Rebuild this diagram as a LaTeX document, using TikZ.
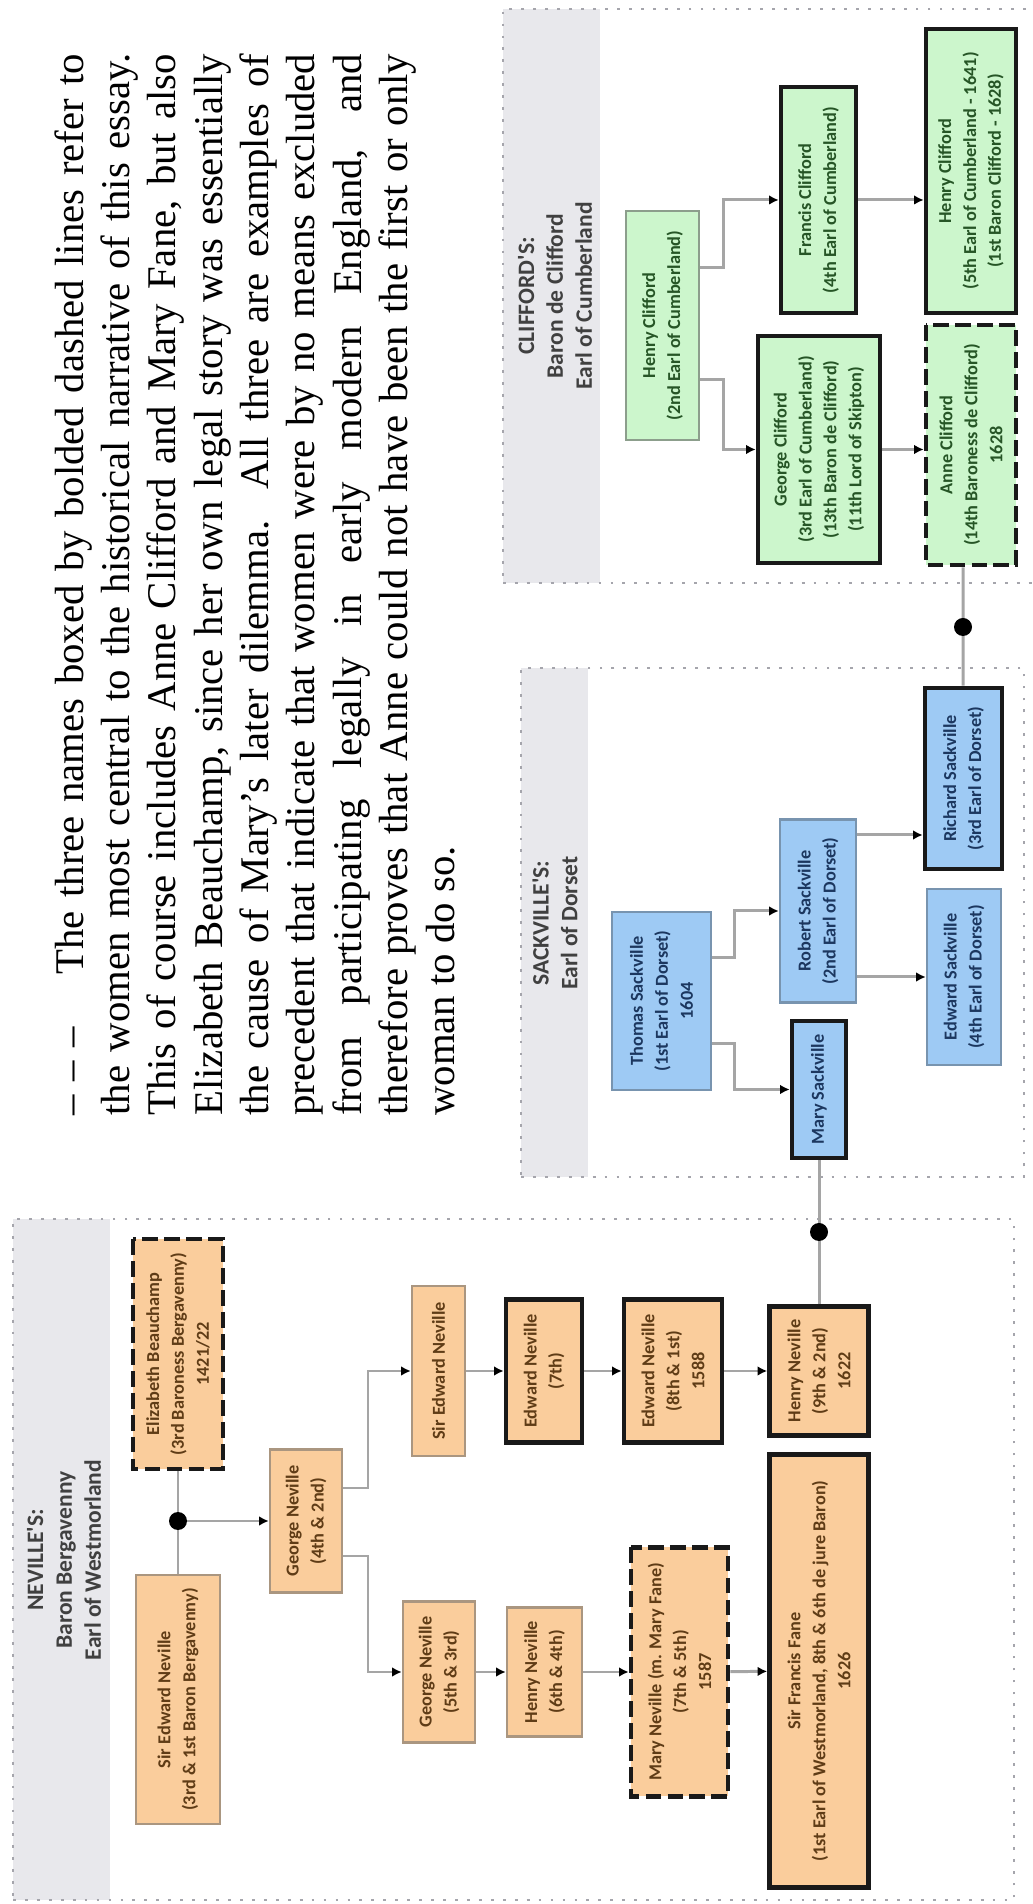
\documentclass[tikz,border=0pt]{standalone}
\usepackage{fontspec}
\setmainfont{Liberation Serif}
\newfontfamily\boxfont{Carlito}
\usepackage{tikz}
\usetikzlibrary{arrows.meta,calc}
\definecolor{nevfill}{RGB}{250,205,156}
\definecolor{nevline}{RGB}{170,150,128}
\definecolor{nevtext}{RGB}{95,60,22}
\definecolor{sackfill}{RGB}{158,202,244}
\definecolor{sackline}{RGB}{120,148,175}
\definecolor{sacktext}{RGB}{28,55,95}
\definecolor{clifffill}{RGB}{204,246,204}
\definecolor{cliffline}{RGB}{140,158,140}
\definecolor{clifftext}{RGB}{38,85,38}
\definecolor{bandgray}{RGB}{232,232,236}
\definecolor{framegray}{RGB}{165,165,172}
\definecolor{linkgray}{RGB}{165,165,165}
\tikzset{
    person/.style={
        draw,
        line width=1.4pt,
        align=center,
        inner sep=1pt,
        font=\boxfont\bfseries\fontsize{10.4}{14.2}\selectfont
    },
    nev/.style={person, fill=nevfill, draw=nevline, text=nevtext},
    sack/.style={person, fill=sackfill, draw=sackline, text=sacktext},
    cliff/.style={person, fill=clifffill, draw=cliffline, text=clifftext},
    % the three women and the heirs
    keybox/.style={draw=black!90, line width=2.6pt},
    keydash/.style={keybox, dash pattern=on 9pt off 3.5pt},
    dims/.style 2 args={minimum width=#1*0.02cm, minimum height=#2*0.02cm},
    famframe/.style={draw=framegray, line width=1.4pt, dash pattern=on 1.6pt off 5.2pt},
    famband/.style={fill=bandgray},
    famtitle/.style={align=center, text=black!75, font=\boxfont\bfseries\fontsize{13.4}{16.4}\selectfont},
    conn/.style={draw=linkgray, line width=1.7pt},
    connarr/.style={conn, -{Latex[length=5.5pt,width=5.5pt,color=black]}},
    knot/.style={fill=black},
    essaytext/.style={anchor=base west, inner sep=0pt, text width=21.24cm,
        align=justify, font=\fontsize{23.2}{26.4}\selectfont}
}
\begin{document}
% page is drawn lying down (generations go down), then turned a quarter
\begin{tikzpicture}[x=0.02cm,y=-0.02cm,rotate=90,transform shape]
\useasboundingbox (0,0) rectangle (1904,1033);
\clip (0,0) rectangle (1904,1033);

% ===================== note =====================
\node[essaytext] (essay) at (788,83) {– – –\hspace{1.3em}The three names boxed by bolded dashed lines refer to\linebreak
the women most central to the historical narrative of this essay.\linebreak
This of course includes Anne Clifford and Mary Fane, but also\linebreak
Elizabeth Beauchamp, since her own legal story was essentially\linebreak
the cause of Mary’s later dilemma. All three are examples of\linebreak
precedent that indicate that women were by no means excluded\linebreak
from participating legally in early modern England, and\linebreak
therefore proves that Anne could not have been the first or only\linebreak
woman to do so.};

% ===================== NEVILLE'S =====================
\begin{scope}
    \fill[famband] (4,13) rectangle (685,110);
    \draw[famframe] (4,13) rectangle (685,1014);
    \node[famtitle] (tnev) at (344,64) {NEVILLE'S:\\Baron Bergavenny\\Earl of Westmorland};

    \node[nev,dims={249}{84}] (sen1) at (204.5,178) {Sir Edward Neville\\(3rd \& 1st Baron Bergavenny)};
    \node[nev,keydash,dims={230}{90}] (eb) at (550,178) {Elizabeth Beauchamp\\(3rd Baroness Bergavenny)\\1421/22};
    \node[nev,dims={143}{72}] (gn4) at (383,306) {George Neville\\(4th \& 2nd)};

    % upper line
    \node[nev,dims={170}{53}] (sen2) at (533,438.5) {Sir Edward Neville};
    \node[nev,keybox,dims={143}{76}] (en7) at (533,544) {Edward Neville\\(7th)};
    \node[nev,keybox,dims={143}{98}] (en8) at (533,673) {Edward Neville\\(8th \& 1st)\\1588};
    \node[nev,keybox,dims={129}{99}] (hn9) at (533,819) {Henry Neville\\(9th \& 2nd)\\1622};

    % lower line
    \node[nev,dims={141}{72}] (gn5) at (232,439) {George Neville\\(5th \& 3rd)};
    \node[nev,dims={129}{75}] (hn6) at (232,544.5) {Henry Neville\\(6th \& 4th)};
    \node[nev,keydash,dims={249}{97}] (mn) at (232,679.5) {Mary Neville (m. Mary Fane)\\(7th \& 5th)\\1587};
    \node[nev,keybox,dims={433}{99}] (sff) at (233,819) {Sir Francis Fane\\(1st Earl of Westmorland, 8th \& 6th de jure Baron)\\1626};

    \path
        (383,178) coordinate (nd1)
        (416,368) coordinate (kb1)
        (348,368) coordinate (kb2)
        ;
    \draw[conn] (sen1) -- (nd1) -- (eb);
    \draw[connarr] (nd1) -- (gn4);
    \draw[connarr] (kb1 |- gn4.south) -- (kb1) -| (sen2);
    \draw[connarr] (kb2 |- gn4.south) -- (kb2) -| (gn5);
    \draw[connarr] (sen2) -- (en7);
    \draw[connarr] (en7) -- (en8);
    \draw[connarr] (en8) -- (hn9);
    \draw[connarr] (gn5) -- (hn6);
    \draw[connarr] (hn6) -- (mn);
    \draw[connarr] (mn) -- (sff);
    \fill[knot] (nd1) circle[radius=0.18cm];
\end{scope}

% ===================== SACKVILLE'S =====================
\begin{scope}
    \fill[famband] (727,521) rectangle (1236,588);
    \draw[famframe] (727,521) rectangle (1236,1024);
    \node[famtitle] (tsack) at (981,555) {SACKVILLE'S:\\Earl of Dorset};

    \node[sack,dims={178}{99}] (ts) at (903,661.5) {Thomas Sackville\\(1st Earl of Dorset)\\1604};
    \node[sack,keybox,dims={137}{54}] (ms) at (814.5,819) {Mary Sackville};
    \node[sack,dims={183}{76}] (rs) at (993,818) {Robert Sackville\\(2nd Earl of Dorset)};
    \node[sack,keybox,dims={181}{77}] (rcs) at (1125.5,963.5) {Richard Sackville\\(3rd Earl of Dorset)};
    \node[sack,dims={176}{74}] (es) at (927,964) {Edward Sackville\\(4th Earl of Dorset)};

    \path
        (946,734) coordinate (kc1)
        (860,734) coordinate (kc2)
        (1069,890) coordinate (kc3)
        ;
    \draw[connarr] (kc1 |- ts.south) -- (kc1) -| (rs);
    \draw[connarr] (kc2 |- ts.south) -- (kc2) -| (ms);
    \draw[connarr] (kc3 |- rs.south) -- (kc3 |- rcs.north);
    \draw[connarr] (es |- rs.south) -- (es);
\end{scope}

% ===================== CLIFFORD'S =====================
\begin{scope}
    \fill[famband] (1321,503) rectangle (1895,600);
    \draw[famframe] (1321,503) rectangle (1895,1045);
    \node[famtitle] (tcliff) at (1608,555) {CLIFFORD'S:\\Baron de Clifford\\Earl of Cumberland};

    \node[cliff,dims={229}{73}] (hc2) at (1578.5,662.5) {Henry Clifford\\(2nd Earl of Cumberland)};
    \node[cliff,keybox,dims={226}{75}] (fc) at (1704,818.5) {Francis Clifford\\(4th Earl of Cumberland)};
    \node[cliff,keybox,dims={227}{122}] (gc) at (1454.5,819) {George Clifford\\(3rd Earl of Cumberland)\\(13th Baron de Clifford)\\(11th Lord of Skipton)};
    \node[cliff,keybox,dims={284}{90}] (hc5) at (1733,971) {Henry Clifford\\(5th Earl of Cumberland - 1641)\\(1st Baron Clifford - 1628)};
    \node[cliff,keydash,dims={240}{90}] (ac) at (1459,971) {Anne Clifford\\(14th Baroness de Clifford)\\1628};

    \path
        (1636,723) coordinate (kd1)
        (1524,723) coordinate (kd2)
        ;
    \draw[connarr] (kd1 |- hc2.south) -- (kd1) -| (fc);
    \draw[connarr] (kd2 |- hc2.south) -- (kd2) -| (gc);
    \draw[connarr] (fc) -- (fc |- hc5.north);
    \draw[connarr] (gc) -- (gc |- ac.north);
\end{scope}

% marriages across the houses
\path
    (672,819) coordinate (nd2)
    (1277,963) coordinate (nd3)
    ;
\draw[conn] (hn9) -- (nd2) -- (ms);
\draw[conn] (rcs) -- (nd3) -- (ac.west |- nd3);
\fill[knot] (nd2) circle[radius=0.18cm] (nd3) circle[radius=0.18cm];

\end{tikzpicture}
\end{document}
